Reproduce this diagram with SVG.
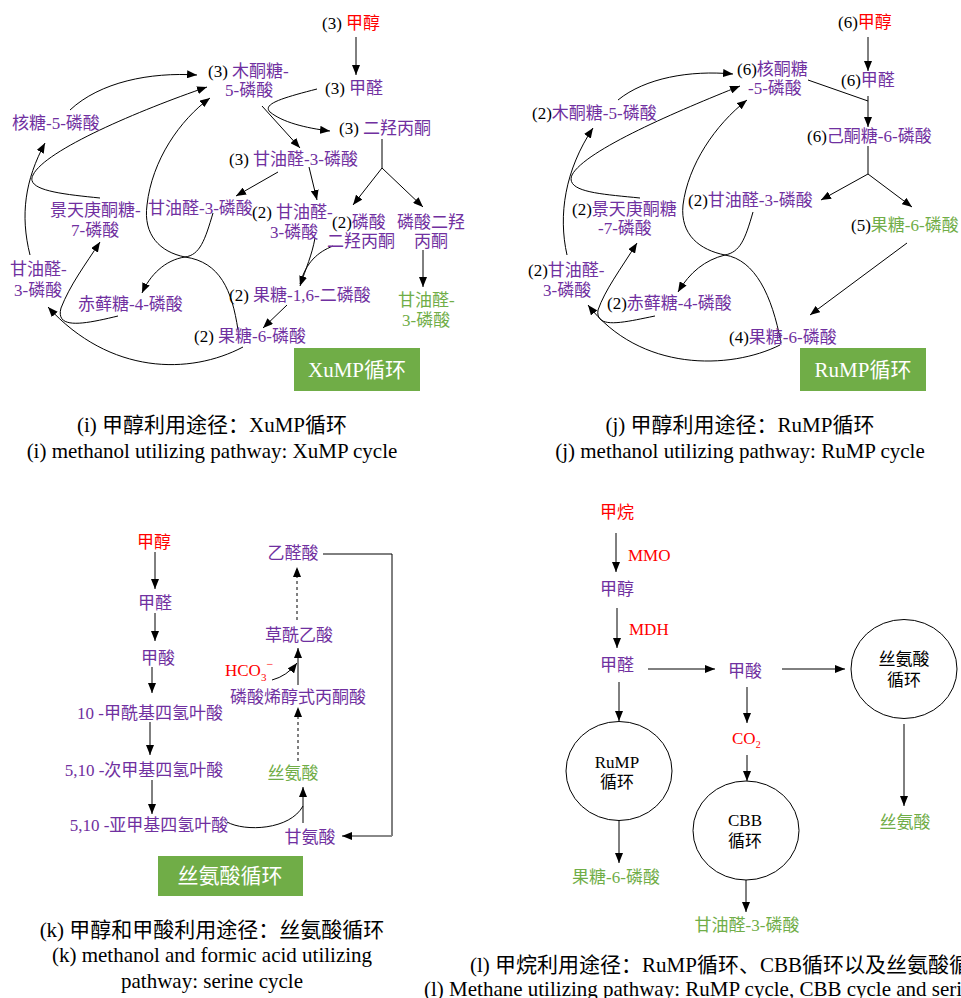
<svg xmlns="http://www.w3.org/2000/svg" width="961" height="998" viewBox="0 0 961 998">
<defs>
<marker id="ah" viewBox="0 0 10 8" refX="10" refY="4" markerWidth="10" markerHeight="8" markerUnits="userSpaceOnUse" orient="auto"><path d="M0,0 L10,4 L0,8 z" fill="#000"/></marker>
<style>
text{font-family:"Liberation Serif","Noto Sans CJK SC",serif;font-size:17px}
.p{fill:#7030A0}.r{fill:#FF0000}.g{fill:#70AD47}.k{fill:#000}
.cap{font-size:21px;fill:#000;text-anchor:middle}
.m{text-anchor:middle}
.bx{fill:#70AD47}
.bt{fill:#fff;font-size:21px;text-anchor:middle}
.c{fill:none;stroke:#000;stroke-width:1}
.a{marker-end:url(#ah)}
.d{stroke-dasharray:3,3}
.cir{fill:#fff;stroke:#000;stroke-width:1}
</style>
</defs>
<rect width="961" height="998" fill="#fff"/>

<g id="connectors">
<!-- panel i -->
<path class="c a" d="M356,37 L356,75"/>
<path class="c a" d="M317,89 C 282,98 262,104 270,112 C 282,122 305,128 330,131"/>
<path class="c a" d="M262,106 L300,148"/>
<path class="c" d="M382,139 L382,168"/>
<path class="c a" d="M382,168 L353,205"/>
<path class="c a" d="M382,168 L423,207"/>
<path class="c a" d="M278,172 L236,196"/>
<path class="c a" d="M309,167 L317,200"/>
<path class="c a" d="M423,250 L423,287"/>
<path class="c a" d="M315,238 C 312,255 306,268 300,286"/>
<path class="c" d="M333,246 C 318,252 306,262 300,284"/>
<path class="c a" d="M287,305 L263,328"/>
<path class="c a" d="M70,110 C 100,82 150,72 197,75"/>
<path class="c a" d="M100,198 C 60,194 25,190 33,175 C 45,150 140,110 207,87"/>
<path class="c a" d="M30,255 C 20,215 25,180 45,143"/>
<path class="c a" d="M118,316 C 85,324 55,330 61,308 C 70,285 85,265 100,242"/>
<path class="c a" d="M213,213 C 205,240 200,255 185,257 C 165,260 150,275 142,293"/>
<path class="c a" d="M238,330 C 232,290 220,262 185,257 C 160,252 143,235 147,205 C 152,160 180,120 210,98"/>
<path class="c a" d="M243,347 C 190,375 110,375 48,307"/>
<!-- panel j -->
<path class="c a" d="M868,37 L868,71"/>
<path class="c a" d="M868,96 L868,127"/>
<path class="c" d="M808,80 L868,101"/>
<path class="c" d="M868,146 L868,174"/>
<path class="c a" d="M868,174 L821,200"/>
<path class="c a" d="M868,174 L912,207"/>
<path class="c a" d="M907,243 L810,315"/>
<path class="c a" d="M618,100 C 645,78 690,70 733,74"/>
<path class="c a" d="M640,198 C 600,194 565,192 572,175 C 585,150 680,110 740,86"/>
<path class="c a" d="M567,255 C 558,215 565,170 593,128"/>
<path class="c a" d="M655,316 C 625,322 595,330 598,310 C 605,290 620,270 637,243"/>
<path class="c a" d="M753,212 C 745,240 740,252 725,255 C 705,260 690,272 678,292"/>
<path class="c a" d="M781,343 C 772,295 755,260 725,255 C 700,250 680,235 683,205 C 688,165 715,125 747,100"/>
<path class="c a" d="M780,345 C 730,370 640,372 588,305"/>
<!-- panel k -->
<path class="c a" d="M155,552 L155,589"/>
<path class="c a" d="M155,613 L155,641"/>
<path class="c a" d="M152,667 L152,693"/>
<path class="c a" d="M150,722 L150,755"/>
<path class="c a" d="M152,780 L152,814"/>
<path class="c a" d="M303,823 L303,787"/>
<path class="c" d="M227,822 C 245,832 290,830 303,806"/>
<path class="c a d" d="M298,761 L298,707"/>
<path class="c a" d="M298,685 L298,648"/>
<path class="c a" d="M272,680 Q 287,676 297,663"/>
<path class="c a d" d="M297,620 L297,567"/>
<path class="c" d="M323,554 L392,554 L392,836"/>
<path class="c a" d="M392,836 L342,836" style="stroke:#888;stroke-width:2"/>
<!-- panel l -->
<path class="c a" d="M616,533 L616,572"/>
<path class="c a" d="M617,608 L617,648"/>
<path class="c a" d="M648,669 L715,669"/>
<path class="c a" d="M782,669 L845,669"/>
<path class="c a" d="M904,724 L904,806"/>
<path class="c a" d="M619,682 L619,721"/>
<path class="c a" d="M619,821 L619,863"/>
<path class="c a" d="M747,687 L747,723"/>
<path class="c a" d="M747,755 L747,781"/>
<path class="c a" d="M746,880 L746,912"/>
</g>

<!-- ===== panel (i) ===== -->
<g id="i-methanol"><text x="322" y="29"><tspan class="k">(3) </tspan><tspan class="r">甲醇</tspan></text></g>
<g id="i-formaldehyde"><text x="325" y="94"><tspan class="k">(3) </tspan><tspan class="p">甲醛</tspan></text></g>
<g id="i-xu5p"><text x="208" y="77"><tspan class="k">(3) </tspan><tspan class="p">木酮糖-</tspan></text><text x="225" y="96" class="p">5-磷酸</text></g>
<g id="i-dha"><text x="339" y="134"><tspan class="k">(3) </tspan><tspan class="p">二羟丙酮</tspan></text></g>
<g id="i-ga3p3"><text x="229" y="165"><tspan class="k">(3) </tspan><tspan class="p">甘油醛-3-磷酸</tspan></text></g>
<g id="i-ga3p-mid"><text x="148" y="214" class="p">甘油醛-3-磷酸</text></g>
<g id="i-ga3p2"><text x="252" y="218"><tspan class="k">(2) </tspan><tspan class="p">甘油醛-</tspan></text><text x="270" y="238" class="p">3-磷酸</text></g>
<g id="i-dhap2"><text x="332" y="228"><tspan class="k">(2)</tspan><tspan class="p">磷酸</tspan></text><text x="327" y="247" class="p">二羟丙酮</text></g>
<g id="i-dhap"><text x="397" y="228" class="p">磷酸二羟</text><text x="414" y="247" class="p">丙酮</text></g>
<g id="i-ga3p-out"><text x="398" y="306" class="g">甘油醛-</text><text x="402" y="326" class="g">3-磷酸</text></g>
<g id="i-fbp"><text x="229" y="301"><tspan class="k">(2) </tspan><tspan class="p">果糖-1,6-二磷酸</tspan></text></g>
<g id="i-f6p"><text x="194" y="342"><tspan class="k">(2) </tspan><tspan class="p">果糖-6-磷酸</tspan></text></g>
<g id="i-r5p"><text x="12" y="129" class="p">核糖-5-磷酸</text></g>
<g id="i-s7p"><text x="50" y="216" class="p">景天庚酮糖-</text><text x="71" y="236" class="p">7-磷酸</text></g>
<g id="i-ga3p-left"><text x="10" y="275" class="p">甘油醛-</text><text x="14" y="296" class="p">3-磷酸</text></g>
<g id="i-e4p"><text x="78" y="310" class="p">赤藓糖-4-磷酸</text></g>
<g id="i-box"><rect class="bx" x="294" y="348" width="126" height="43"/><text x="357" y="377" class="bt">XuMP循环</text></g>
<g id="i-caption"><text x="212" y="432" class="cap">(i) 甲醇利用途径：XuMP循环</text><text x="212" y="458" class="cap">(i) methanol utilizing pathway: XuMP cycle</text></g>

<!-- ===== panel (j) ===== -->
<g id="j-methanol"><text x="838" y="28"><tspan class="k">(6)</tspan><tspan class="r">甲醇</tspan></text></g>
<g id="j-formaldehyde"><text x="841" y="86"><tspan class="k">(6)</tspan><tspan class="p">甲醛</tspan></text></g>
<g id="j-ru5p"><text x="737" y="75"><tspan class="k">(6)</tspan><tspan class="p">核酮糖</tspan></text><text x="748" y="94" class="p">-5-磷酸</text></g>
<g id="j-h6p"><text x="807" y="142"><tspan class="k">(6)</tspan><tspan class="p">己酮糖-6-磷酸</tspan></text></g>
<g id="j-ga3p"><text x="688" y="206"><tspan class="k">(2)</tspan><tspan class="p">甘油醛-3-磷酸</tspan></text></g>
<g id="j-f6p5"><text x="851" y="231"><tspan class="k">(5)</tspan><tspan class="g">果糖-6-磷酸</tspan></text></g>
<g id="j-f6p4"><text x="729" y="343"><tspan class="k">(4)</tspan><tspan class="p">果糖-6-磷酸</tspan></text></g>
<g id="j-xu5p"><text x="532" y="119"><tspan class="k">(2)</tspan><tspan class="p">木酮糖-5-磷酸</tspan></text></g>
<g id="j-s7p"><text x="572" y="215"><tspan class="k">(2)</tspan><tspan class="p">景天庚酮糖</tspan></text><text x="598" y="234" class="p">-7-磷酸</text></g>
<g id="j-ga3p-left"><text x="528" y="276"><tspan class="k">(2)</tspan><tspan class="p">甘油醛-</tspan></text><text x="543" y="296" class="p">3-磷酸</text></g>
<g id="j-e4p"><text x="607" y="309"><tspan class="k">(2)</tspan><tspan class="p">赤藓糖-4-磷酸</tspan></text></g>
<g id="j-box"><rect class="bx" x="800" y="348" width="126" height="43"/><text x="863" y="377" class="bt">RuMP循环</text></g>
<g id="j-caption"><text x="740" y="432" class="cap">(j) 甲醇利用途径：RuMP循环</text><text x="740" y="458" class="cap">(j) methanol utilizing pathway: RuMP cycle</text></g>

<!-- ===== panel (k) ===== -->
<g id="k-methanol"><text x="154" y="548" class="r m">甲醇</text></g>
<g id="k-formaldehyde"><text x="155" y="609" class="p m">甲醛</text></g>
<g id="k-formate"><text x="158" y="664" class="p m">甲酸</text></g>
<g id="k-fthf"><text x="150" y="719" class="p m">10 -甲酰基四氢叶酸</text></g>
<g id="k-methenyl"><text x="144" y="776" class="p m">5,10 -次甲基四氢叶酸</text></g>
<g id="k-methylene"><text x="149" y="831" class="p m">5,10 -亚甲基四氢叶酸</text></g>
<g id="k-glycine"><text x="310" y="843" class="p m">甘氨酸</text></g>
<g id="k-serine"><text x="293" y="779" class="g m">丝氨酸</text></g>
<g id="k-pep"><text x="298" y="703" class="p m">磷酸烯醇式丙酮酸</text></g>
<g id="k-hco3"><text x="225" y="676" class="r">HCO<tspan dy="5" font-size="11">3</tspan><tspan dy="-13" font-size="12">−</tspan></text></g>
<g id="k-oaa"><text x="299" y="641" class="p m">草酰乙酸</text></g>
<g id="k-glyoxylate"><text x="293" y="559" class="p m">乙醛酸</text></g>
<g id="k-box"><rect class="bx" x="158" y="856" width="145" height="40"/><text x="230" y="883" class="bt">丝氨酸循环</text></g>
<g id="k-caption"><text x="212" y="937" class="cap">(k) 甲醇和甲酸利用途径：丝氨酸循环</text><text x="212" y="962" class="cap">(k) methanol and formic acid utilizing</text><text x="212" y="988" class="cap">pathway: serine cycle</text></g>

<!-- ===== panel (l) ===== -->
<g id="l-methane"><text x="617" y="518" class="r m">甲烷</text></g>
<g id="l-mmo"><text x="628" y="561" class="r">MMO</text></g>
<g id="l-methanol"><text x="617" y="595" class="p m">甲醇</text></g>
<g id="l-mdh"><text x="629" y="635" class="r">MDH</text></g>
<g id="l-formaldehyde"><text x="617" y="671" class="p m">甲醛</text></g>
<g id="l-formate"><text x="745" y="677" class="p m">甲酸</text></g>
<g id="l-serine-cycle"><ellipse class="cir" cx="904" cy="669" rx="53" ry="49.5"/><text x="904" y="665" class="k m">丝氨酸</text><text x="904" y="686" class="k m">循环</text></g>
<g id="l-serine"><text x="905" y="828" class="g m">丝氨酸</text></g>
<g id="l-rump"><ellipse class="cir" cx="619" cy="771" rx="53" ry="49.5"/><text x="617" y="768" class="k m">RuMP</text><text x="617" y="788" class="k m">循环</text></g>
<g id="l-f6p"><text x="616" y="883" class="g m">果糖-6-磷酸</text></g>
<g id="l-co2"><text x="732" y="744" class="r">CO<tspan dy="4" font-size="10">2</tspan></text></g>
<g id="l-cbb"><ellipse class="cir" cx="746" cy="830.5" rx="53" ry="49.5"/><text x="745" y="826" class="k m">CBB</text><text x="745" y="847" class="k m">循环</text></g>
<g id="l-ga3p"><text x="747" y="931" class="g m">甘油醛-3-磷酸</text></g>
<g id="l-caption"><text x="470" y="972" style="font-size:21px;fill:#000">(l) 甲烷利用途径：RuMP循环、CBB循环以及丝氨酸循环</text><text x="424" y="996" style="font-size:21px;fill:#000">(l) Methane utilizing pathway: RuMP cycle, CBB cycle and serine cycle</text></g>
</svg>
